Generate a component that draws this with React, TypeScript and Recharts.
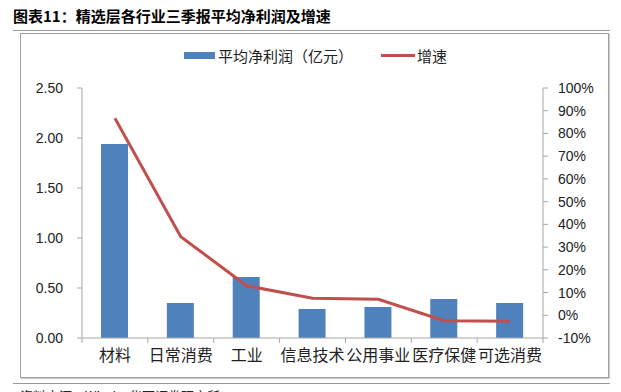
import React from 'react';
import { ComposedChart, Bar, Line, XAxis, YAxis } from 'recharts';

const categories = ['材料', '日常消费', '工业', '信息技术', '公用事业', '医疗保健', '可选消费'];
const avgProfit = [1.94, 0.35, 0.61, 0.29, 0.31, 0.39, 0.35];
const growth = [86.7, 34.6, 13.0, 7.5, 7.0, -2.4, -2.6];
const leftTicks = [0, 0.5, 1, 1.5, 2, 2.5];
const rightTicks = [-10, 0, 10, 20, 30, 40, 50, 60, 70, 80, 90, 100];

const data = categories.map((name, i) => ({ name, profit: avgProfit[i], growth: growth[i] }));

const BAR_COLOR = '#4F81BD';
const LINE_COLOR = '#C0504D';
const AXIS_COLOR = '#A6A6A6';
const NUM_FONT = '"Liberation Sans", Arial, sans-serif';
const CJK_FONT = '"Noto Sans CJK SC", sans-serif';

// largeur d'une catégorie, pour placer les petits traits entre les catégories
const PLOT_LEFT = 82;
const PLOT_RIGHT = 543;
const BAND = (PLOT_RIGHT - PLOT_LEFT) / categories.length;

const CategoryTick = (props: any) => {
    const { x, y, payload, index } = props;
    return (
        <g>
            <line x1={x - BAND / 2} y1={y - 8} x2={x - BAND / 2} y2={y - 3} stroke={AXIS_COLOR} />
            {index === categories.length - 1 && (
                <line x1={x + BAND / 2} y1={y - 8} x2={x + BAND / 2} y2={y - 3} stroke={AXIS_COLOR} />
            )}
            <text x={x} y={y + 15} textAnchor="middle" fontSize={16} fill="#222" fontFamily={CJK_FONT}>
                {payload.value}
            </text>
        </g>
    );
};

const ChartLegend = () => (
    <div style={{ position: 'absolute', left: 184, top: 45, display: 'flex', alignItems: 'center', fontFamily: CJK_FONT, fontSize: 15, color: '#222', whiteSpace: 'nowrap' }}>
        <span style={{ display: 'inline-block', width: 31, height: 7, background: BAR_COLOR, marginRight: 3 }} />
        <span>平均净利润（亿元）</span>
        <span style={{ display: 'inline-block', width: 34, height: 3, background: LINE_COLOR, marginLeft: 28, marginRight: 2 }} />
        <span>增速</span>
    </div>
);

const App: React.FC = () => {
    return (
        <div style={{ position: 'absolute', left: 0, top: 0, width: 621, height: 392, overflow: 'hidden', background: '#fff' }}>
            <div style={{ position: 'absolute', left: 13, top: 5, fontFamily: CJK_FONT, fontWeight: 'bold', fontSize: 15, color: '#000', whiteSpace: 'nowrap' }}>
                图表11：精选层各行业三季报平均净利润及增速
            </div>
            <div style={{ position: 'absolute', left: 13, top: 30, width: 597, height: 1, background: '#9a9a9a' }} />
            <div style={{ position: 'absolute', left: 20, top: 33, width: 587, height: 343, border: '1px solid #a0a0a0', boxShadow: '1px 1px 1px #d0d0d0' }} />
            <div style={{ position: 'absolute', left: 13, top: 383, width: 597, height: 1, background: '#9a9a9a' }} />
            <div style={{ position: 'absolute', left: 20, top: 386, fontFamily: CJK_FONT, fontSize: 13, color: '#222', whiteSpace: 'nowrap' }}>
                资料来源：Wind，华西证券研究所
            </div>
            <ChartLegend />
            <div style={{ position: 'absolute', left: 0, top: 0 }}>
                <ComposedChart
                    width={621}
                    height={392}
                    data={data}
                    margin={{ top: 88, right: 18, left: 22, bottom: 24 }}
                >
                    <XAxis
                        dataKey="name"
                        interval={0}
                        height={30}
                        stroke={AXIS_COLOR}
                        tickLine={false}
                        tick={<CategoryTick />}
                    />
                    <YAxis
                        yAxisId="left"
                        domain={[0, 2.5]}
                        ticks={leftTicks}
                        interval={0}
                        width={60}
                        stroke={AXIS_COLOR}
                        tickSize={5}
                        tickMargin={14}
                        tickFormatter={(v: number) => v.toFixed(2)}
                        tick={{ fontSize: 14, fill: '#222', fontFamily: NUM_FONT }}
                        allowDataOverflow
                    />
                    <YAxis
                        yAxisId="right"
                        orientation="right"
                        domain={[-10, 100]}
                        ticks={rightTicks}
                        interval={0}
                        width={60}
                        stroke={AXIS_COLOR}
                        tickSize={5}
                        tickMargin={10}
                        tickFormatter={(v: number) => `${v}%`}
                        tick={{ fontSize: 14, fill: '#222', fontFamily: NUM_FONT }}
                        allowDataOverflow
                    />
                    <Bar
                        yAxisId="left"
                        dataKey="profit"
                        name="平均净利润（亿元）"
                        fill={BAR_COLOR}
                        barSize={27}
                        isAnimationActive={false}
                    />
                    <Line
                        yAxisId="right"
                        dataKey="growth"
                        name="增速"
                        stroke={LINE_COLOR}
                        strokeWidth={3}
                        dot={false}
                        activeDot={false}
                        isAnimationActive={false}
                    />
                </ComposedChart>
            </div>
        </div>
    );
};

export default App;
